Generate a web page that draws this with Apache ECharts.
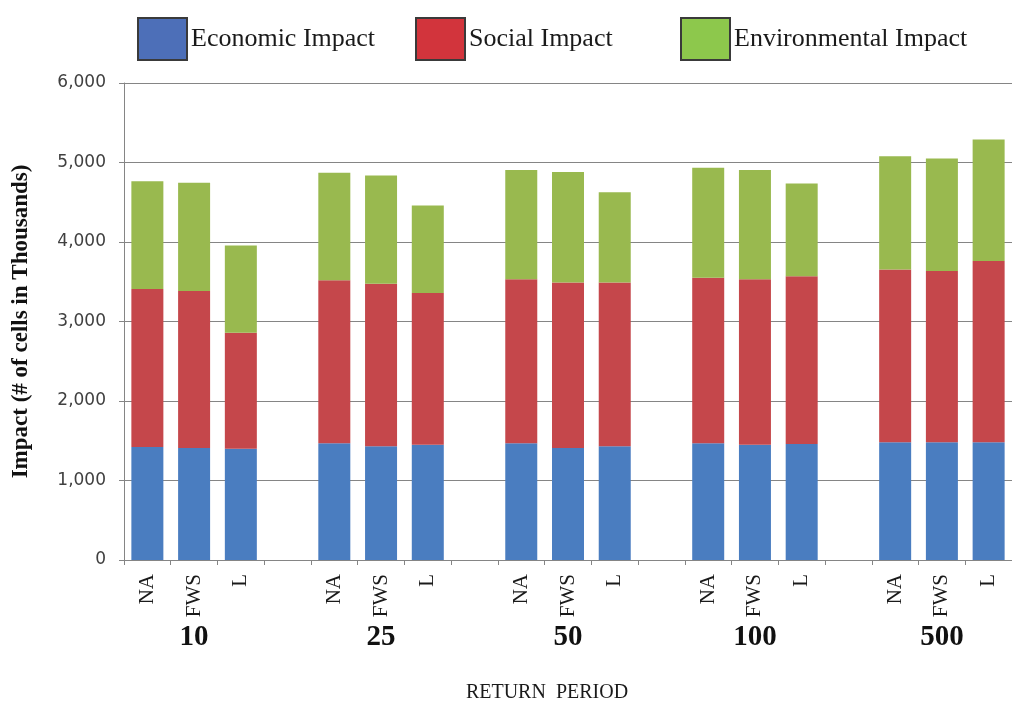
<!DOCTYPE html>
<html>
<head>
<meta charset="utf-8">
<script src="https://cdn.jsdelivr.net/npm/echarts@6/dist/echarts.min.js"></script>
<style>
  html, body { margin: 0; padding: 0; background: #fff; }
  #chart { width: 1012px; height: 710px; }
</style>
</head>
<body>
<div id="chart"></div>
<script>
// Return periods (years) and the three scenarios drawn for each one
const periods = ['10', '25', '50', '100', '500'];
const scenarios = ['NA', 'FWS', 'L'];

// Impact in thousands of cells, one value per scenario, grouped by return period
const economicImpact = [1420, 1410, 1400, 1470, 1430, 1450, 1470, 1410, 1430, 1470, 1450, 1460, 1480, 1480, 1480];
const socialImpact = [1990, 1975, 1460, 2050, 2045, 1910, 2060, 2080, 2060, 2080, 2080, 2110, 2175, 2155, 2280];
const environmentalImpact = [1355, 1360, 1095, 1350, 1360, 1100, 1375, 1390, 1135, 1385, 1375, 1165, 1425, 1415, 1530];

const yTicks = [0, 1000, 2000, 3000, 4000, 5000, 6000];

// Category slots: three bars per period, with an empty slot between periods
const slots = [];
const groupLabels = [];
const slotIndex = [];
periods.forEach((p, gi) => {
  scenarios.forEach((s, si) => {
    slotIndex.push(slots.length);
    slots.push(s);
    groupLabels.push(si === 1 ? p : '');
  });
  if (gi < periods.length - 1) {
    slots.push('');
    groupLabels.push('');
  }
});

function spread(values) {
  const out = slots.map(() => '-');
  values.forEach((v, i) => { out[slotIndex[i]] = v; });
  return out;
}

const serif = '"Liberation Serif", "Times New Roman", serif';
const gridColor = '#858585';

const chart = echarts.init(document.getElementById('chart'), null, { renderer: 'canvas' });

function legendAt(name, left, color) {
  return {
    data: [name],
    left: left,
    top: 17,
    padding: 0,
    itemWidth: 49,
    itemHeight: 42,
    icon: 'rect',
    selectedMode: false,
    itemStyle: { color: color, borderColor: '#3a3a3a', borderWidth: 2 },
    textStyle: { fontFamily: serif, fontSize: 26, color: '#1a1a1a', padding: [0, 0, 0, -1] }
  };
}

chart.setOption({
  animation: false,
  backgroundColor: '#ffffff',
  legend: [
    legendAt('Economic Impact', 137, '#4d6fb8'),
    legendAt('Social Impact', 415, '#d2343c'),
    legendAt('Environmental Impact', 680, '#8dc84c')
  ],
  grid: { left: 124, right: 0, top: 83, bottom: 150, containLabel: false },
  xAxis: [
    {
      type: 'category',
      data: slots,
      axisLine: { show: true, lineStyle: { color: gridColor, width: 1 } },
      axisTick: { show: true, alignWithLabel: false, length: 5, lineStyle: { color: gridColor } },
      axisLabel: {
        interval: 0,
        rotate: 90,
        margin: 14,
        fontFamily: serif,
        fontSize: 21,
        color: '#1a1a1a'
      }
    },
    {
      type: 'category',
      position: 'bottom',
      offset: 57,
      data: groupLabels,
      axisLine: { show: false },
      axisTick: { show: false },
      axisLabel: {
        interval: 0,
        margin: 6,
        fontFamily: serif,
        fontWeight: 'bold',
        fontSize: 29,
        color: '#111'
      },
      name: 'RETURN  PERIOD',
      nameLocation: 'middle',
      nameGap: 66,
      nameTextStyle: { fontFamily: serif, fontSize: 20, color: '#1a1a1a', padding: [0, 42, 0, 0] }
    }
  ],
  yAxis: {
    type: 'value',
    min: yTicks[0],
    max: yTicks[yTicks.length - 1],
    interval: 1000,
    axisLine: { show: true, lineStyle: { color: gridColor, width: 1 } },
    axisTick: { show: true, inside: false, length: 5, lineStyle: { color: gridColor } },
    splitLine: { show: true, lineStyle: { color: gridColor, width: 1 } },
    axisLabel: {
      margin: 18,
      fontFamily: '"DejaVu Sans", Verdana, sans-serif',
      fontSize: 17,
      color: '#404040',
      formatter: v => v.toLocaleString('en-US')
    },
    name: 'Impact (# of cells in Thousands)',
    nameLocation: 'middle',
    nameGap: 91,
    nameTextStyle: { fontFamily: serif, fontWeight: 'bold', fontSize: 23, color: '#111' }
  },
  series: [
    {
      name: 'Economic Impact', type: 'bar', stack: 'impact', barWidth: 32,
      itemStyle: { color: '#4a7dc0' },
      data: spread(economicImpact)
    },
    {
      name: 'Social Impact', type: 'bar', stack: 'impact', barWidth: 32,
      itemStyle: { color: '#c5474b' },
      data: spread(socialImpact)
    },
    {
      name: 'Environmental Impact', type: 'bar', stack: 'impact', barWidth: 32,
      itemStyle: { color: '#99b94f' },
      data: spread(environmentalImpact)
    }
  ]
});
</script>
</body>
</html>
